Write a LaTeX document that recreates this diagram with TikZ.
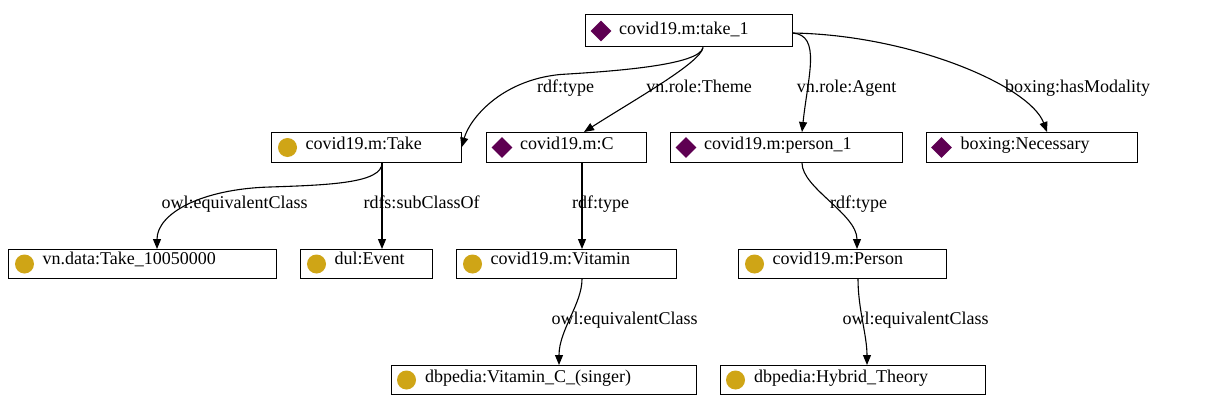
\documentclass[tikz,border=0pt]{standalone}
\usepackage{fontspec}
\setmainfont{Liberation Serif}
\definecolor{IndivPurple}{HTML}{5E0052}
\definecolor{ClassGold}{HTML}{CFA516}
\usetikzlibrary{shapes.geometric, arrows.meta, positioning}

\begin{document}
\begin{tikzpicture}[
  x=1pt, y=-1pt,
  every node/.style={font=\fontsize{18pt}{21pt}\selectfont},
  ent/.style={
    rectangle, draw=black, line width=1pt, fill=white,
    inner sep=0pt, minimum height=30pt},
  ind/.style={
    diamond, aspect=1, fill=IndivPurple, inner sep=0pt,
    minimum width=21pt, minimum height=21pt},
  cls/.style={
    circle, fill=ClassGold, inner sep=0pt, minimum size=19pt},
  nm/.style={anchor=base west, inner sep=0pt},
  rel/.style={
    -{Triangle[length=10pt,width=8pt]},
    draw=black, line width=1.1pt},
  rlbl/.style={anchor=base, inner sep=0pt},
]
\useasboundingbox (0,0) rectangle (1223,412);

% individuals and classes
\node[ent, minimum width=207pt, minimum height=32pt] (take1) at (688.5,31) {};
\node[ind] (take1i) at ([xshift=16.5pt]take1.west) {};
\node[nm] (take1t) at ([xshift=34.5pt,yshift=-4pt]take1.west) {covid19.m:take\_1};

\node[ent, minimum width=190pt] (take) at (366,147.5) {};
\node[cls] (takei) at ([xshift=17pt]take.west) {};
\node[nm] (taket) at ([xshift=35pt,yshift=-1.5pt]take.west) {covid19.m:Take};

\node[ent, minimum width=160pt] (vitc) at (566,147.5) {};
\node[ind] (vitci) at ([xshift=16.5pt]vitc.west) {};
\node[nm] (vitct) at ([xshift=34.5pt,yshift=-1.5pt]vitc.west) {covid19.m:C};

\node[ent, minimum width=232pt] (person1) at (786,147.5) {};
\node[ind] (person1i) at ([xshift=16.5pt]person1.west) {};
\node[nm] (person1t) at ([xshift=34.5pt,yshift=-1.5pt]person1.west) {covid19.m:person\_1};

\node[ent, minimum width=211pt] (necessary) at (1031.5,147.5) {};
\node[ind] (necessaryi) at ([xshift=16pt]necessary.west) {};
\node[nm] (necessaryt) at ([xshift=35pt,yshift=-1.5pt]necessary.west) {boxing:Necessary};

\node[ent, minimum width=268pt, minimum height=29pt] (take100) at (142,264) {};
\node[cls] (take100i) at ([xshift=17pt]take100.west) {};
\node[nm] (take100t) at ([xshift=35pt,yshift=-0.5pt]take100.west) {vn.data:Take\_10050000};

\node[ent, minimum width=132pt, minimum height=29pt] (event) at (366,264) {};
\node[cls] (eventi) at ([xshift=17pt]event.west) {};
\node[nm] (eventt) at ([xshift=35pt,yshift=-0.5pt]event.west) {dul:Event};

\node[ent, minimum width=220pt, minimum height=29pt] (vitamin) at (566,264) {};
\node[cls] (vitamini) at ([xshift=17pt]vitamin.west) {};
\node[nm] (vitamint) at ([xshift=35pt,yshift=-0.5pt]vitamin.west) {covid19.m:Vitamin};

\node[ent, minimum width=208pt, minimum height=29pt] (person) at (842,264) {};
\node[cls] (personi) at ([xshift=17pt]person.west) {};
\node[nm] (persont) at ([xshift=35pt,yshift=-0.5pt]person.west) {covid19.m:Person};

\node[ent, minimum width=305pt, minimum height=29pt] (singer) at (543.5,380) {};
\node[cls] (singeri) at ([xshift=16pt]singer.west) {};
\node[nm] (singert) at ([xshift=34.5pt,yshift=-2.5pt]singer.west) {dbpedia:Vitamin\_C\_(singer)};

\node[ent, minimum width=265pt, minimum height=29pt] (hybrid) at (852.5,380) {};
\node[cls] (hybridi) at ([xshift=16pt]hybrid.west) {};
\node[nm] (hybridt) at ([xshift=34.5pt,yshift=-2.5pt]hybrid.west) {dbpedia:Hybrid\_Theory};

% relations
\draw[rel] ([xshift=14.5pt]take1.south)
  .. controls +(-3,18) and +(50,-3) .. ++(-143,27)
  .. controls +(-60,6) and +(8,-28) .. (take.east);
\draw[rel] ([xshift=14.5pt]take1.south)
  .. controls +(-2,15) and +(50,-32) .. ([xshift=18pt]vitc.north);
\draw[rel] ([yshift=-2pt]take1.east)
  .. controls +(29,2) and +(6,-56) .. ([xshift=16pt]person1.north);
\draw[rel] ([yshift=-2pt]take1.east)
  .. controls +(119,2) and +(-17,-46) .. ([xshift=15.5pt]necessary.north);

\draw[rel] ([xshift=16pt]take.south)
  .. controls +(0,20) and +(60,-2) .. ++(-112,24)
  .. controls +(-70,2) and +(0,-35) .. ([xshift=15pt]take100.north);
\draw[rel] ([xshift=16pt]take.south) -- ([xshift=16pt]event.north);
\draw[rel] ([xshift=16pt]vitc.south) -- ([xshift=16pt]vitamin.north);
\draw[rel] ([xshift=16pt]person1.south)
  .. controls +(0,25) and +(0,-35) .. ([xshift=15pt]person.north);
\draw[rel] ([xshift=16pt]vitamin.south)
  .. controls +(0,25) and +(0,-35) .. ([xshift=15.5pt]singer.north);
\draw[rel] ([xshift=16pt]person.south)
  .. controls +(0,30) and +(0,-30) .. ([xshift=14.5pt]hybrid.north);

% relation labels
\node[rlbl] (l1) at (565.5,92.5) {rdf:type};
\node[rlbl] (l2) at (699,92.5) {vn.role:Theme};
\node[rlbl] (l3) at (846.5,92.5) {vn.role:Agent};
\node[rlbl] (l4) at (1077.5,92.5) {boxing:hasModality};
\node[rlbl] (l5) at (234.5,208.5) {owl:equivalentClass};
\node[rlbl] (l6) at (421.5,208.5) {rdfs:subClassOf};
\node[rlbl] (l7) at (600.5,208.5) {rdf:type};
\node[rlbl] (l8) at (858.5,208.5) {rdf:type};
\node[rlbl] (l9) at (624.5,324.5) {owl:equivalentClass};
\node[rlbl] (l10) at (915.5,324.5) {owl:equivalentClass};

\end{tikzpicture}
\end{document}
